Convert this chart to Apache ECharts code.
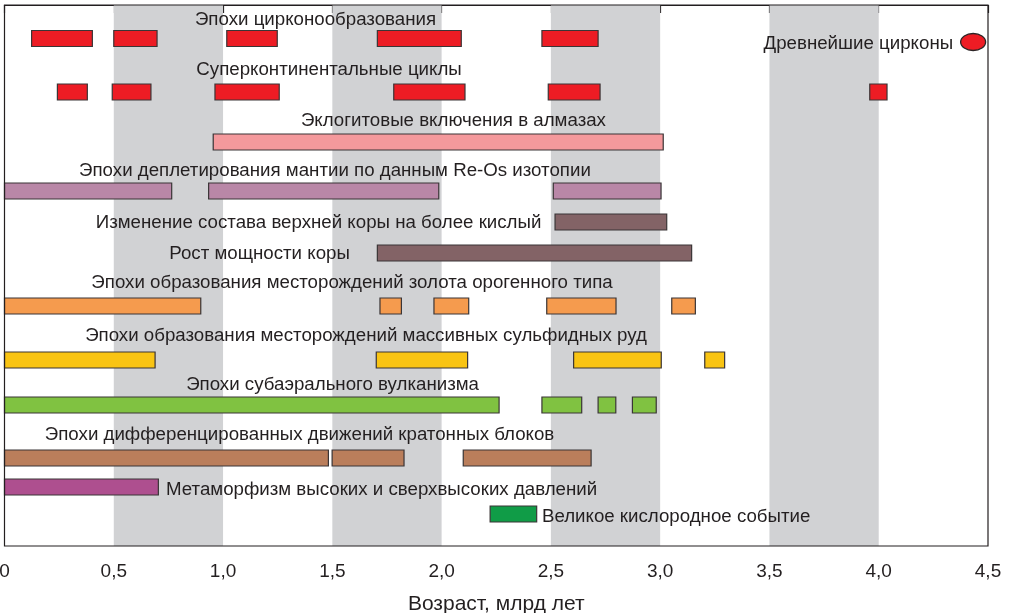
<!DOCTYPE html>
<html>
<head>
<meta charset="utf-8">
<script src="https://cdn.jsdelivr.net/npm/echarts@6/dist/echarts.min.js"></script>
<style>
  html, body { margin: 0; padding: 0; background: #fff; }
  #chart { width: 1015px; height: 613px; }
</style>
</head>
<body>
<div id="chart"></div>
<script>
// Time intervals in billions of years ago, [start, end]
const zirconEpochs       = [[0.124, 0.402], [0.50, 0.698], [1.017, 1.248], [1.706, 2.09], [2.459, 2.716]];
const supercontinents    = [[0.242, 0.379], [0.493, 0.670], [0.963, 1.257], [1.781, 2.107], [2.488, 2.725], [3.959, 4.038]];
const eclogiteInclusions = [[0.955, 3.014]];
const mantleDepletion    = [[0, 0.765], [0.934, 1.987], [2.511, 3.004]];
const upperCrustChange   = [[2.519, 3.03]];
const crustGrowth        = [[1.706, 3.144]];
const orogenicGold       = [[0, 0.898], [1.718, 1.816], [1.965, 2.124], [2.481, 2.798], [3.053, 3.161]];
const massiveSulfides    = [[0, 0.689], [1.701, 2.119], [2.604, 3.005], [3.204, 3.295]];
const subaerialVolcanism = [[0, 2.263], [2.459, 2.641], [2.716, 2.797], [2.873, 2.982]];
const cratonMovements    = [[0, 1.482], [1.499, 1.828], [2.099, 2.684]];
const hpMetamorphism     = [[0, 0.704]];
const greatOxidation     = [[2.222, 2.435]];
const oldestZircons      = [4.432];

// Alternating shaded half-billion-year bands
const shadedBands = [[0.5, 1.0], [1.5, 2.0], [2.5, 3.0], [3.5, 4.0]];

// Axis ticks
const tickValues = [0, 0.5, 1.0, 1.5, 2.0, 2.5, 3.0, 3.5, 4.0, 4.5];

// Row titles
const titles = [
  'Эпохи цирконообразования',
  'Суперконтинентальные циклы',
  'Эклогитовые включения в алмазах',
  'Эпохи деплетирования мантии по данным Re-Os изотопии',
  'Изменение состава верхней коры на более кислый',
  'Рост мощности коры',
  'Эпохи образования месторождений золота орогенного типа',
  'Эпохи образования месторождений массивных сульфидных руд',
  'Эпохи субаэрального вулканизма',
  'Эпохи дифференцированных движений кратонных блоков',
  'Метаморфизм высоких и сверхвысоких давлений',
  'Великое кислородное событие'
];
const oldestZirconsTitle = 'Древнейшие цирконы';
const axisTitle = 'Возраст, млрд лет';

// ---- layout: vertical lanes in pixels from the top of the plot area,
// title anchors as [age, lane, alignment] ----
const rows = [
  { data: zirconEpochs,       color: '#ed1c24', lane: 33.5, label: [1.423, 15, 'center'] },
  { data: supercontinents,    color: '#ed1c24', lane: 87,   label: [1.485, 65, 'center'] },
  { data: eclogiteInclusions, color: '#f4999c', lane: 137,  label: [2.054, 116, 'center'] },
  { data: mantleDepletion,    color: '#b987a7', lane: 186,  label: [1.512, 166, 'center'] },
  { data: upperCrustChange,   color: '#836366', lane: 217,  label: [1.437, 217.5, 'center'] },
  { data: crustGrowth,        color: '#836366', lane: 248,  label: [1.167, 248.5, 'center'] },
  { data: orogenicGold,       color: '#f59b4e', lane: 301,  label: [1.590, 277.5, 'center'] },
  { data: massiveSulfides,    color: '#f9c413', lane: 355,  label: [1.654, 330.5, 'center'] },
  { data: subaerialVolcanism, color: '#80c241', lane: 400,  label: [1.501, 379.5, 'center'] },
  { data: cratonMovements,    color: '#ba7e5b', lane: 453,  label: [1.350, 429.5, 'center'] },
  { data: hpMetamorphism,     color: '#ae4f8f', lane: 482,  label: [0.739, 485, 'left'] },
  { data: greatOxidation,     color: '#109c47', lane: 509,  label: [2.459, 512, 'left'] }
];
const barHeight = 16;
const textColor = '#231f20';
const fontFamily = '"Liberation Sans", Arial, sans-serif';
const fontSize = 18.7;

const fmt = v => v === 0 ? '0' : v.toFixed(1).replace('.', ',');

const series = [];

// shaded bands
series.push({
  type: 'custom',
  z: 1,
  silent: true,
  data: shadedBands.map(b => [b[0], b[1]]),
  encode: { x: [0, 1] },
  renderItem: function (params, api) {
    const x0 = api.coord([api.value(0), 0])[0];
    const x1 = api.coord([api.value(1), 0])[0];
    const cs = params.coordSys;
    return {
      type: 'rect',
      shape: { x: x0, y: cs.y, width: x1 - x0, height: cs.height },
      style: { fill: '#d1d2d4' }
    };
  }
});

// interval bars
rows.forEach(function (row) {
  series.push({
    type: 'custom',
    z: 3,
    data: row.data.map(d => [d[0], d[1], row.lane]),
    encode: { x: [0, 1], y: 2 },
    renderItem: function (params, api) {
      const p0 = api.coord([api.value(0), api.value(2)]);
      const p1 = api.coord([api.value(1), api.value(2)]);
      return {
        type: 'rect',
        shape: { x: p0[0], y: p0[1] - barHeight / 2, width: p1[0] - p0[0], height: barHeight },
        style: { fill: row.color, stroke: '#3a3536', lineWidth: 1.2 }
      };
    }
  });
});

// oldest zircon marker
series.push({
  type: 'custom',
  z: 3,
  data: oldestZircons.map(v => [v, 37]),
  encode: { x: 0, y: 1 },
  renderItem: function (params, api) {
    const p = api.coord([api.value(0), api.value(1)]);
    return {
      type: 'group',
      children: [
        {
          type: 'ellipse',
          shape: { cx: p[0], cy: p[1], rx: 12.5, ry: 8.5 },
          style: { fill: '#ed1c24', stroke: '#2b2526', lineWidth: 1.3 }
        },
        {
          type: 'text',
          style: {
            x: p[0] - 20, y: p[1] + 1.5,
            text: oldestZirconsTitle,
            align: 'right', verticalAlign: 'middle',
            fill: textColor, font: fontSize + 'px ' + fontFamily
          }
        }
      ]
    };
  }
});

// row titles
series.push({
  type: 'custom',
  z: 5,
  silent: true,
  data: rows.map((r, i) => [r.label[0], r.label[1], i]),
  encode: { x: 0, y: 1 },
  renderItem: function (params, api) {
    const i = api.value(2);
    const p = api.coord([api.value(0), api.value(1)]);
    return {
      type: 'text',
      style: {
        x: p[0], y: p[1],
        text: titles[i],
        align: rows[i].label[2], verticalAlign: 'middle',
        fill: textColor, font: fontSize + 'px ' + fontFamily
      }
    };
  }
});

const chart = echarts.init(document.getElementById('chart'), null, { renderer: 'canvas' });
chart.setOption({
  animation: false,
  backgroundColor: '#ffffff',
  grid: {
    left: 4.5, right: 27, top: 5, bottom: 67,
    containLabel: false,
    outerBoundsMode: 'none',
    show: true, borderColor: '#231f20', borderWidth: 1.2, backgroundColor: 'transparent',
    z: 4
  },
  xAxis: {
    type: 'value',
    min: tickValues[0],
    max: tickValues[tickValues.length - 1],
    interval: 0.5,
    splitLine: { show: false },
    axisLine: { lineStyle: { color: '#231f20', width: 1.2 } },
    axisTick: { show: true, length: 8, lineStyle: { color: '#231f20', width: 1.2 } },
    axisLabel: {
      formatter: fmt, color: textColor, fontSize: 19, fontFamily: fontFamily, margin: 16
    },
    name: axisTitle,
    nameLocation: 'middle',
    nameGap: 48,
    nameTextStyle: { color: textColor, fontSize: 21, fontFamily: fontFamily }
  },
  yAxis: {
    type: 'value',
    min: 0, max: 541,
    inverse: true,
    show: false
  },
  series: series
});
</script>
</body>
</html>
